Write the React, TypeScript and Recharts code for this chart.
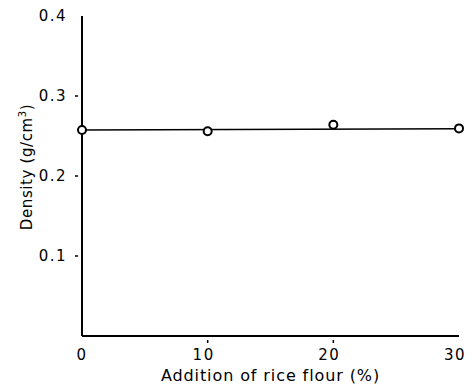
import { ComposedChart, Scatter, Line, XAxis, YAxis } from 'recharts';

// rice flour addition (%) and measured density (g/cm3)
const riceFlour = [0, 10, 20, 30];
const density = [0.2575, 0.256, 0.264, 0.2595];

// fitted straight line, end points
const fitX = [0, 30];
const fitY = [0.2575, 0.259];

const xTicks = [0, 10, 20, 30];
const yTicks = [0.1, 0.2, 0.3, 0.4];

const points = riceFlour.map((x, i) => ({ x, y: density[i] }));
const fitLine = fitX.map((x, i) => ({ x, y: fitY[i] }));

const FONT = '"DejaVu Sans", sans-serif';

const XTick = ({ x, y, payload }: any) => (
  <g>
    {payload.value !== 0 && payload.value !== 30 && (
      <line x1={x} x2={x} y1={y - 1} y2={y - 4} stroke="#000" strokeWidth={1.5} />
    )}
    <text
      x={payload.value === 0 ? x : x - 4}
      y={y + 16}
      textAnchor="middle"
      fontSize={15}
      letterSpacing={1.5}
      fontFamily={FONT}
      fill="#000"
    >
      {payload.value}
    </text>
  </g>
);

const YTick = ({ x, y, payload }: any) => (
  <g>
    {payload.value !== 0.4 && (
      <line x1={x + 1} x2={x + 4} y1={y} y2={y} stroke="#000" strokeWidth={1.5} />
    )}
    <text x={x - 7} y={y + 5} textAnchor="end" fontSize={15} letterSpacing={1.5} fontFamily={FONT} fill="#000">
      {payload.value.toFixed(1)}
    </text>
  </g>
);

const YLabel = () => (
  <text
    transform="translate(32,167) rotate(-90)"
    textAnchor="middle"
    fontSize={15}
    letterSpacing={0.6}
    fontFamily={FONT}
    fill="#000"
  >
    Density (g/cm
    <tspan dy={-6} fontSize={10}>3</tspan>
    <tspan dy={6}>)</tspan>
  </text>
);

export default function App() {
  return (
    <div style={{ position: 'absolute', left: 0, top: 0, background: '#fff' }}>
      <ComposedChart width={475} height={386} margin={{ top: 16, right: 16, bottom: 0, left: 20 }}>
        <XAxis
          type="number"
          dataKey="x"
          domain={[0, 30]}
          ticks={xTicks}
          tick={<XTick />}
          tickLine={false}
          axisLine={{ stroke: '#000', strokeWidth: 2 }}
          height={50}
          label={{ value: 'Addition of rice flour (%)', position: 'insideBottom', offset: 5, fontSize: 16, letterSpacing: 0.9, fontFamily: FONT, fill: '#000' }}
          allowDuplicatedCategory={false}
        />
        <YAxis
          type="number"
          dataKey="y"
          domain={[0, 0.4]}
          ticks={yTicks}
          tick={<YTick />}
          tickLine={false}
          axisLine={{ stroke: '#000', strokeWidth: 2 }}
          width={62}
          label={<YLabel />}
        />
        <Line
          data={fitLine}
          dataKey="y"
          stroke="#000"
          strokeWidth={1.5}
          dot={false}
          isAnimationActive={false}
        />
        <Scatter
          data={points}
          dataKey="y"
          isAnimationActive={false}
          shape={(p: any) => (
            <circle cx={p.cx} cy={p.cy} r={4} fill="#fff" stroke="#000" strokeWidth={2} />
          )}
        />
      </ComposedChart>
    </div>
  );
}
